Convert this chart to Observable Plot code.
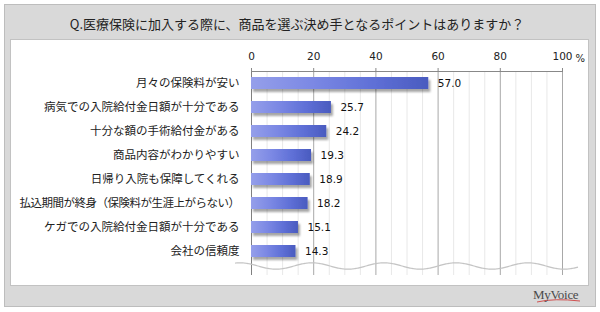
<!DOCTYPE html>
<html>
<head>
<meta charset="utf-8">
<script src="https://cdn.jsdelivr.net/npm/d3@7"></script>
<script src="https://cdn.jsdelivr.net/npm/@observablehq/plot@0.6"></script>
<style>
html,body{margin:0;padding:0;background:#fff;}
#wrap{position:relative;width:600px;height:312px;overflow:hidden;font-family:"Noto Sans CJK JP",sans-serif;}
#outer{position:absolute;left:4px;top:4px;width:592px;height:303px;box-sizing:border-box;background:#d9d9d9;border:1px solid #bdbdbd;}
#panel{position:absolute;left:10px;top:39px;width:579px;height:247px;box-sizing:border-box;background:#fff;border:1px solid #c2c2c2;}
#title{position:absolute;left:0;width:594px;top:17px;line-height:13px;font-size:13px;text-align:center;color:#222;white-space:nowrap;}
#logo{position:absolute;left:533px;top:288px;font-family:"Liberation Serif",serif;font-size:13px;line-height:13px;color:#4a4a4a;letter-spacing:-0.3px;}
#swoosh{position:absolute;left:536px;top:298px;}
#chart{position:absolute;left:0;top:0;}
</style>
</head>
<body>
<div id="wrap">
  <div id="outer"></div>
  <div id="panel"></div>
  <div id="title">Q.医療保険に加入する際に、商品を選ぶ決め手となるポイントはありますか？</div>
  <div id="chart"></div>
  <svg id="swoosh" width="46" height="6"><path d="M1 4 Q 18 0 44 3" stroke="#d05050" stroke-width="1" fill="none"/></svg>
  <div id="logo">MyVoice</div>
</div>
<script>
const categories = [
  "月々の保険料が安い",
  "病気での入院給付金日額が十分である",
  "十分な額の手術給付金がある",
  "商品内容がわかりやすい",
  "日帰り入院も保障してくれる",
  "払込期間が終身（保険料が生涯上がらない）",
  "ケガでの入院給付金日額が十分である",
  "会社の信頼度"
];
const values = [57.0, 25.7, 24.2, 19.3, 18.9, 18.2, 15.1, 14.3];
const xTicks = [0, 20, 40, 60, 80, 100];
const minorTicks = [5, 10, 15, 25, 30, 35, 45, 50, 55, 65, 70, 75, 85, 90, 95];
const unitLabel = "%";

const data = categories.map((c, i) => ({category: c, value: values[i]}));

function decor(index, scales, vals, dims) {
  const x0 = scales.x(0), x1 = scales.x(100);
  const top = dims.marginTop;
  const bottom = dims.height - dims.marginBottom;
  const g = d3.create("svg:g");
  g.append("line")
    .attr("x1", x0).attr("x2", x1)
    .attr("y1", top + 0.5).attr("y2", top + 0.5)
    .attr("stroke", "#888");
  const ws = x0 - 16, we = x1 + 16, wy = bottom - 9, amp = 3.2, period = 72;
  const pts = d3.range(ws, we + 0.5, 1).map(x => [x, wy - amp * Math.cos(2 * Math.PI * (x - x0 + 11) / period)]);
  g.append("path")
    .attr("d", d3.line()(pts))
    .attr("fill", "none")
    .attr("stroke", "#c4c4c4")
    .attr("stroke-width", 1.2);
  return g.node();
}

const chart = Plot.plot({
  width: 600,
  height: 312,
  marginLeft: 251,
  marginRight: 38,
  marginTop: 71,
  marginBottom: 37,
  style: {background: "transparent", color: "#222", overflow: "visible"},
  x: {domain: [0, 100], axis: null, label: null},
  y: {domain: categories, axis: null, label: null, paddingInner: 0.49, paddingOuter: 0.245, insetBottom: 11},
  marks: [
    Plot.ruleX(minorTicks, {stroke: "#e8e8e8"}),
    Plot.ruleX(xTicks, {stroke: "#a8a8a8"}),
    Plot.ruleX([0], {stroke: "#808080"}),
    decor,
    Plot.barX(data, {x: "value", y: "category", fill: "url(#barGrad)"}),
    Plot.text(data, {
      x: "value", y: "category",
      text: d => d.value.toFixed(1),
      textAnchor: "start", dx: 9,
      fontSize: 10.5, fontFamily: "DejaVu Sans", fill: "#111"
    }),
    Plot.axisX(xTicks, {
      anchor: "top", tickSize: 4, tickPadding: 8, label: null,
      fontSize: 10.5, fontFamily: "DejaVu Sans", stroke: "#888"
    }),
    Plot.axisY({
      tickSize: 0, tickPadding: 12, label: null,
      fontSize: 11.5, fontFamily: "Noto Sans CJK JP"
    }),
    Plot.text([unitLabel], {
      x: [100], text: d => d, frameAnchor: "top",
      dx: 13, dy: -17, textAnchor: "start",
      fontSize: 10, fontFamily: "DejaVu Sans", fill: "#222"
    })
  ]
});

const svg = d3.select(chart);
const defs = svg.insert("defs", ":first-child");
const lg = defs.append("linearGradient").attr("id", "barGrad")
  .attr("x1", 0).attr("x2", 1).attr("y1", 0).attr("y2", 0);
[[0, "#959fea"], [0.35, "#7b88e4"], [0.7, "#5e6fd6"], [1, "#4a5bbf"]].forEach(([o, c]) =>
  lg.append("stop").attr("offset", o).attr("stop-color", c));
const f = defs.append("filter").attr("id", "barShadow")
  .attr("x", "-10%").attr("y", "-40%").attr("width", "130%").attr("height", "200%");
f.append("feDropShadow").attr("dx", 2).attr("dy", 3).attr("stdDeviation", 1.2)
  .attr("flood-color", "#000").attr("flood-opacity", 0.35);
svg.select('g[aria-label="bar"]').attr("filter", "url(#barShadow)");

// tighten the longest category label so it sits inside the panel like the reference
svg.selectAll("text").filter(function() { return this.textContent === categories[5]; })
  .attr("letter-spacing", "-0.5px");

document.getElementById("chart").appendChild(chart);
</script>
</body>
</html>
